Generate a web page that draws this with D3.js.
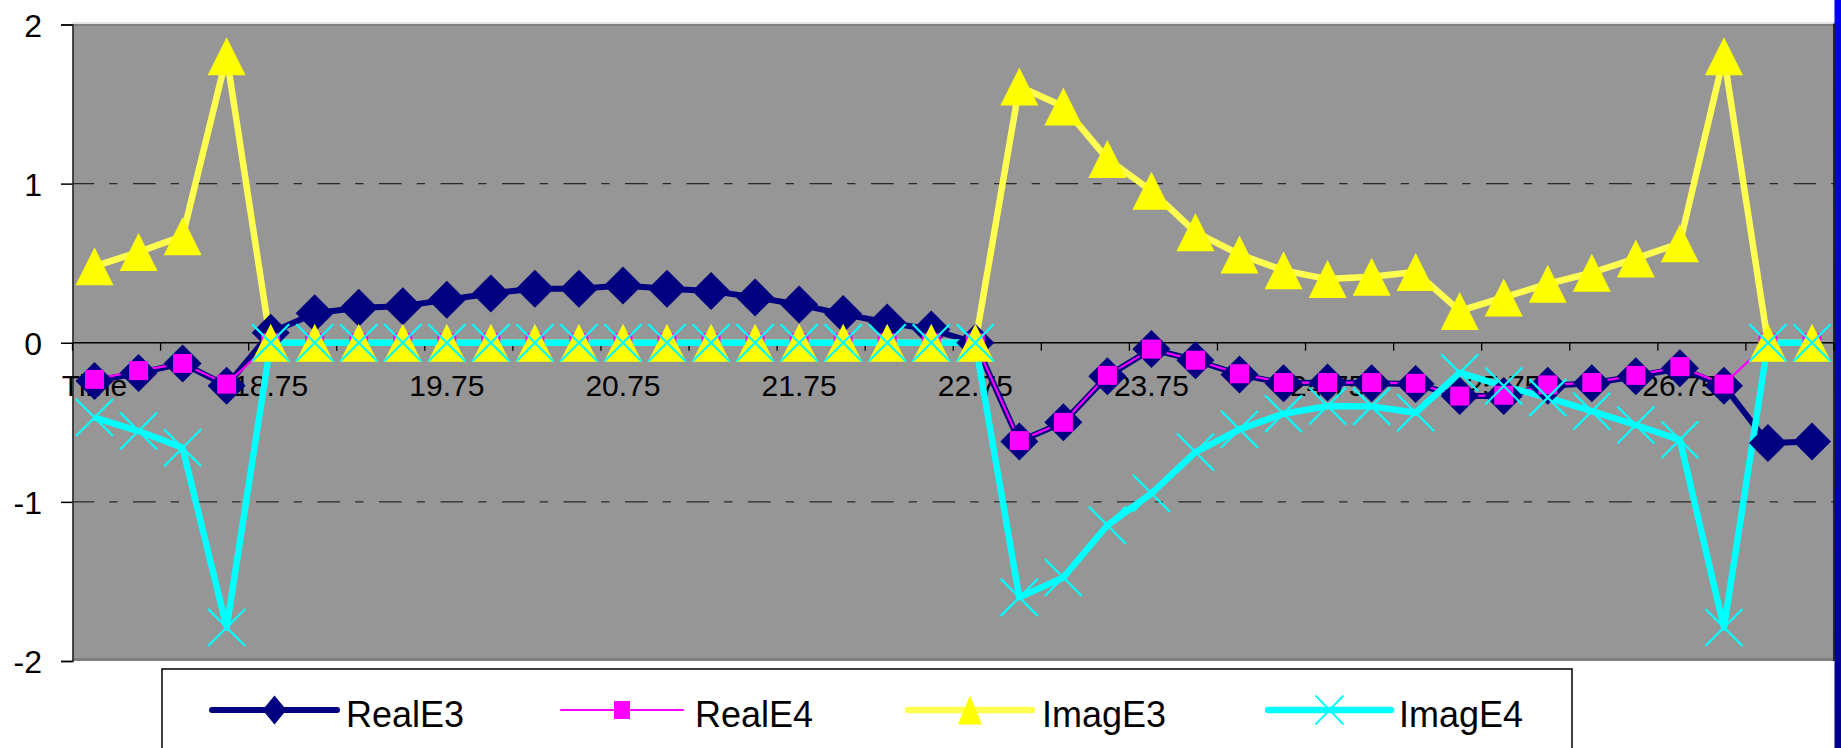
<!DOCTYPE html>
<html><head><meta charset="utf-8">
<script src="https://cdn.jsdelivr.net/npm/d3@7"></script>
<style>html,body{margin:0;padding:0;background:#fff;overflow:hidden}</style>
</head><body>
<svg id="chart" width="1841" height="748"></svg>
<script>
const categories = ["Time","18","18.25","18.5","18.75","19","19.25","19.5","19.75","20","20.25","20.5","20.75","21","21.25","21.5","21.75","22","22.25","22.5","22.75","23","23.25","23.5","23.75","24","24.25","24.5","24.75","25","25.25","25.5","25.75","26","26.25","26.5","26.75","27","27.25","27.5"];
const tickLabels = ["Time","18.75","19.75","20.75","21.75","22.75","23.75","24.75","25.75","26.75"];
const yTicks = [-2,-1,0,1,2];
const yTickLabels = ["-2","-1","0","1","2"];
const realE3 = [-0.24,-0.19,-0.13,-0.27,0.063,0.185,0.22,0.23,0.27,0.31,0.34,0.34,0.36,0.34,0.325,0.285,0.24,0.18,0.127,0.083,0.0,-0.62,-0.50,-0.21,-0.04,-0.11,-0.20,-0.255,-0.25,-0.255,-0.26,-0.335,-0.335,-0.27,-0.255,-0.21,-0.16,-0.27,-0.63,-0.62];
const realE4 = [-0.23,-0.175,-0.13,-0.26,0,0,0,0,0,0,0,0,0,0,0,0,0,0,0,0,0,-0.615,-0.50,-0.205,-0.04,-0.11,-0.195,-0.25,-0.25,-0.25,-0.255,-0.335,-0.33,-0.265,-0.25,-0.205,-0.15,-0.26,0,0];
const imagE3 = [0.48,0.57,0.67,1.80,0,0,0,0,0,0,0,0,0,0,0,0,0,0,0,0,0,1.61,1.485,1.155,0.955,0.695,0.555,0.455,0.40,0.415,0.445,0.20,0.285,0.37,0.44,0.53,0.625,1.80,0,0];
const imagE4 = [-0.47,-0.555,-0.66,-1.79,0,0,0,0,0,0,0,0,0,0,0,0,0,0,0,0,0,-1.60,-1.475,-1.147,-0.946,-0.687,-0.544,-0.446,-0.398,-0.40,-0.44,-0.188,-0.272,-0.345,-0.43,-0.517,-0.61,-1.79,0,0];
const seriesNames = ["RealE3","RealE4","ImagE3","ImagE4"];

const font = "'Liberation Sans', Arial, Helvetica, sans-serif";
const svg = d3.select("#chart");
const L = 72.5, R = 1834, T = 24.5, B = 661;

const x = d3.scaleBand().domain(categories).range([L, R]).paddingInner(0).paddingOuter(0);
const y = d3.scaleLinear().domain([-2, 2]).range([B, T]);
const cx = c => x(c) + x.bandwidth() / 2;

// right blue window edge
const defs = svg.append("defs");
const grad = defs.append("linearGradient").attr("id","edge").attr("x1",0).attr("x2",0).attr("y1",0).attr("y2",1);
grad.append("stop").attr("offset","0%").attr("stop-color","#0000f5");
grad.append("stop").attr("offset","100%").attr("stop-color","#00008a");
svg.append("rect").attr("x",1834.5).attr("y",0).attr("width",7).attr("height",748).attr("fill","url(#edge)");

// plot area
svg.append("rect").attr("x",L).attr("y",T).attr("width",R-L).attr("height",B-T).attr("fill","#969696");
svg.append("line").attr("x1",L).attr("x2",R).attr("y1",T-1.5).attr("y2",T-1.5).attr("stroke","#c8c8c8").attr("stroke-width",1);
svg.append("line").attr("x1",L).attr("x2",R).attr("y1",T+0.5).attr("y2",T+0.5).attr("stroke","#808080").attr("stroke-width",2);
svg.append("line").attr("x1",L).attr("x2",R).attr("y1",B-1.5).attr("y2",B-1.5).attr("stroke","#808080").attr("stroke-width",3);

// gridlines
svg.append("g").selectAll("line").data([1,-1]).join("line")
  .attr("x1",L).attr("x2",R).attr("y1",d=>y(d)).attr("y2",d=>y(d))
  .attr("stroke","#2a2a2a").attr("stroke-width",1.3)
  .attr("stroke-dasharray","22.7,15,8.3,15.5").attr("stroke-dashoffset",1);

// y axis
const yAxis = d3.axisLeft(y).tickValues(yTicks).tickSize(11.5).tickPadding(19)
  .tickFormat((d,i)=>yTickLabels[i]);
const gy = svg.append("g").attr("transform",`translate(${L},0)`).call(yAxis);
gy.select(".domain").attr("stroke","#222").attr("stroke-width",1.5);
gy.selectAll(".tick line").attr("stroke","#000").attr("stroke-width",1.5);
gy.selectAll(".tick text").attr("font-family",font).attr("font-size",32).attr("fill","#000").attr("dy","0.36em");

// x axis line at zero
svg.append("line").attr("x1",L).attr("x2",R).attr("y1",y(0)).attr("y2",y(0)).attr("stroke","#000").attr("stroke-width",1.5);
// tick marks every 2 categories at boundaries
const boundaries = categories.filter((c,i)=>i%2===0).map(c=>x(c)).concat([R]);
svg.append("g").selectAll("line").data(boundaries).join("line")
  .attr("x1",d=>d).attr("x2",d=>d).attr("y1",y(0)).attr("y2",y(0)+8)
  .attr("stroke","#000").attr("stroke-width",1.3);
// labels
const xAxis = d3.axisBottom(x).tickValues(categories.filter((c,i)=>i%4===0))
  .tickSize(0).tickFormat((d,i)=>tickLabels[i]);
const gx = svg.append("g").attr("transform",`translate(0,${y(0)})`).call(xAxis);
gx.select(".domain").remove();
gx.selectAll(".tick text").attr("font-family",font).attr("font-size",30).attr("fill","#000")
  .attr("y",53).attr("dy",0);

// right border
svg.append("line").attr("x1",R).attr("x2",R).attr("y1",T-1).attr("y2",B).attr("stroke","#000").attr("stroke-width",1.5);

// series
const series = [
  {name:seriesNames[0], values:realE3, color:"#000080", width:6, marker:"diamond", mcolor:"#000080"},
  {name:seriesNames[1], values:realE4, color:"#ff00ff", width:2.2, marker:"square", mcolor:"#ff00ff"},
  {name:seriesNames[2], values:imagE3, color:"#ffff50", width:6.5, marker:"triangle", mcolor:"#ffff00"},
  {name:seriesNames[3], values:imagE4, color:"#00ffff", width:6.5, marker:"x", mcolor:"#00ffff"}
];
function markerPath(type, hw, hh){
  if(type==="diamond") return `M0,${-hh}L${hw},0L0,${hh}L${-hw},0Z`;
  if(type==="square") return `M${-hw},${-hh}L${hw},${-hh}L${hw},${hh}L${-hw},${hh}Z`;
  if(type==="triangle") return `M0,${-hh}L${hw},${hh}L${-hw},${hh}Z`;
  return `M${-hw},${-hh}L${hw},${hh}M${-hw},${hh}L${hw},${-hh}`;
}
const plotSize = {diamond:[19,19], square:[9.5,9.5], triangle:[19,19], x:[18.5,18.5]};
const line = d3.line().x((d,i)=>cx(categories[i])).y(d=>y(d));
const gLines = svg.append("g"), gMarks = svg.append("g");
series.forEach(s=>{
  gLines.append("path").attr("d",line(s.values)).attr("fill","none")
    .attr("stroke",s.color).attr("stroke-width",s.width).attr("stroke-linejoin","round");
});
series.forEach(s=>{
  const [hw,hh] = plotSize[s.marker];
  gMarks.append("g").selectAll("path").data(s.values).join("path")
    .attr("transform",(d,i)=>`translate(${cx(categories[i])},${y(d)})`)
    .attr("d",markerPath(s.marker,hw,hh))
    .attr("fill",s.marker==="x"?"none":s.mcolor)
    .attr("stroke",s.marker==="x"?s.mcolor:"none")
    .attr("stroke-width",s.marker==="x"?2.2:0);
});

// legend
svg.append("rect").attr("x",162).attr("y",669).attr("width",1410).attr("height",120)
  .attr("fill","#fff").attr("stroke","#000").attr("stroke-width",1.5);
const legendPos = [
  {x1:212,x2:337,tx:346},
  {x1:561,x2:683,tx:695},
  {x1:908,x2:1032,tx:1042},
  {x1:1268,x2:1391,tx:1399}
];
const legendSize = {diamond:[12,14.5], square:[8,9], triangle:[12,14.5], x:[14,14.5]};
const ly = 710;
series.forEach((s,i)=>{
  const p = legendPos[i];
  const g = svg.append("g");
  g.append("line").attr("x1",p.x1).attr("x2",p.x2).attr("y1",ly).attr("y2",ly)
    .attr("stroke",s.color).attr("stroke-width",s.width).attr("stroke-linecap","round");
  const [hw,hh] = legendSize[s.marker];
  g.append("path").attr("transform",`translate(${(p.x1+p.x2)/2},${ly})`)
    .attr("d",markerPath(s.marker,hw,hh))
    .attr("fill",s.marker==="x"?"none":s.mcolor)
    .attr("stroke",s.marker==="x"?s.mcolor:"none").attr("stroke-width",s.marker==="x"?1.8:0);
  g.append("text").attr("x",p.tx).attr("y",727).attr("font-family",font).attr("font-size",36)
    .attr("fill","#000").text(s.name);
});
</script>
</body></html>
